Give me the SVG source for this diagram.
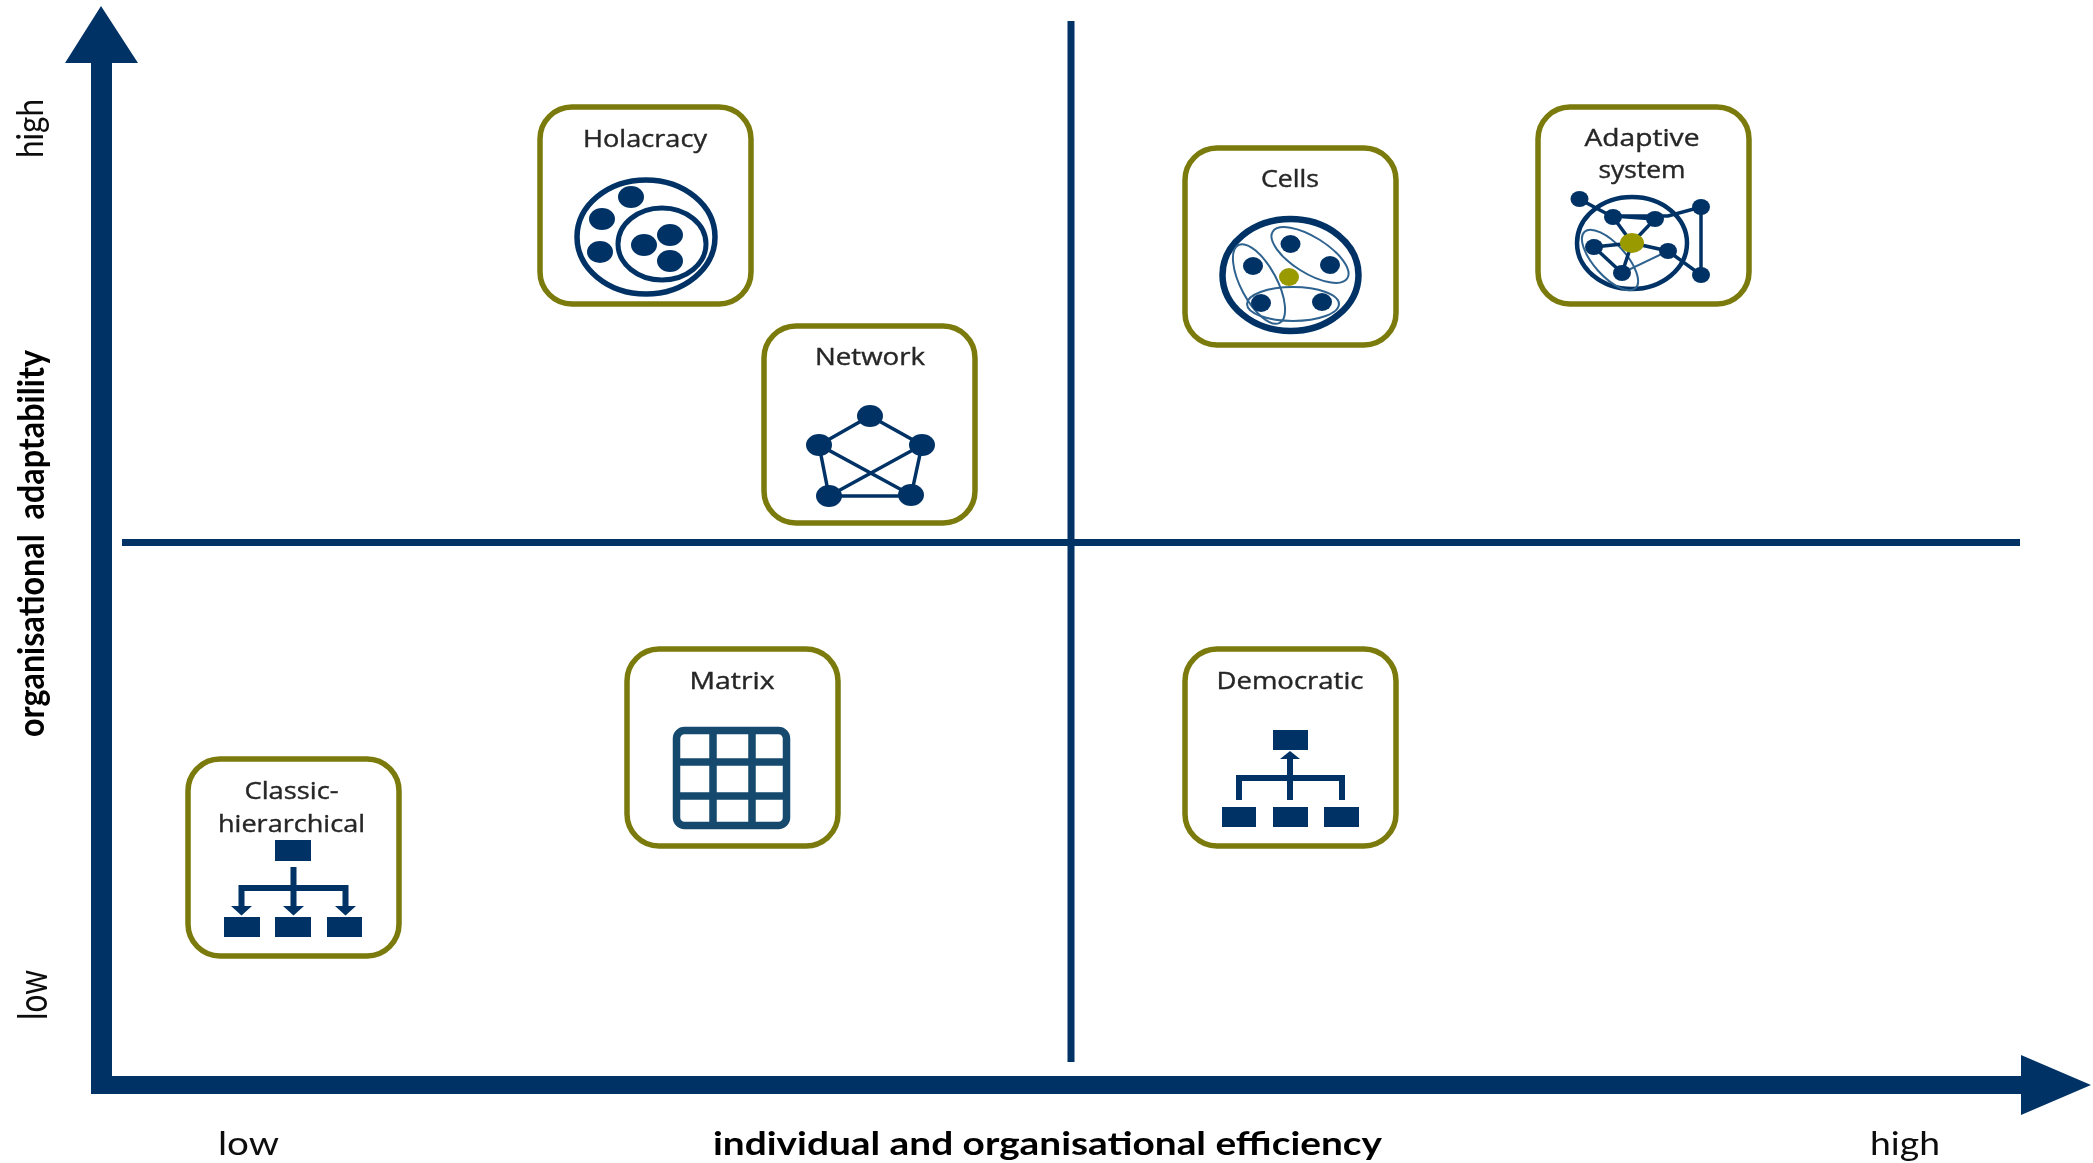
<svg xmlns="http://www.w3.org/2000/svg" width="2093" height="1163" viewBox="0 0 2093 1163">
<defs>
<style>
.box{fill:#fff;stroke:#7a7a0c;stroke-width:5.500}
.lbl{font-family:"Open Sans","Liberation Sans",sans-serif;font-size:24px;fill:#262626;stroke:#262626;stroke-width:0.4;text-anchor:middle}
.ax{font-family:Lato,"Liberation Sans",sans-serif;font-size:33px;fill:#111}
.b{font-weight:700;fill:#000}
.f{fill:#003366;stroke:none}
.o{fill:none;stroke:#003366}
.t{fill:none;stroke:#2f628f;stroke-width:2}
.l{stroke:#003366;stroke-width:3.500;fill:none}
.g{fill:#999900;stroke:none}
</style>
<filter id="soft" x="0" y="0" width="2093" height="1163" filterUnits="userSpaceOnUse"><feGaussianBlur stdDeviation="0.65"/></filter>
</defs>
<rect width="2093" height="1163" fill="#fff"/>
<g filter="url(#soft)">
<g id="connectors">
<path class="f" d="M91 1094V63H65L101 6L138 63H112V1076H2021V1055L2091 1085L2021 1115V1094Z"/>
<path class="o" stroke-width="7" d="M1071 21V1062M122 542.500H2020"/>
</g>
<g id="holacracy">
<rect class="box" x="540" y="107" width="211" height="197" rx="32"/>
<text class="lbl" x="645" y="147" textLength="124" lengthAdjust="spacingAndGlyphs">Holacracy</text>
<ellipse class="o" stroke-width="5.500" cx="646" cy="237" rx="69" ry="57"/>
<ellipse class="o" stroke-width="5" cx="662" cy="244" rx="44" ry="36"/>
<g class="f"><ellipse cx="631" cy="197" rx="13" ry="11"/><ellipse cx="602" cy="219" rx="13" ry="11"/><ellipse cx="600" cy="252" rx="13" ry="11"/><ellipse cx="644" cy="245" rx="13" ry="11"/><ellipse cx="670" cy="235" rx="13" ry="11"/><ellipse cx="670" cy="261" rx="13" ry="11"/></g>
</g>
<g id="network">
<rect class="box" x="764" y="326" width="211" height="197" rx="32"/>
<text class="lbl" x="870" y="365" textLength="110" lengthAdjust="spacingAndGlyphs">Network</text>
<path class="l" d="M870 416L819 445L829 496H911L922 445ZM819 445L911 495M922 445L829 496"/>
<g class="f"><ellipse cx="870" cy="416" rx="13" ry="11"/><ellipse cx="819" cy="445" rx="13" ry="11"/><ellipse cx="922" cy="445" rx="13" ry="11"/><ellipse cx="829" cy="496" rx="13" ry="11"/><ellipse cx="911" cy="495" rx="13" ry="11"/></g>
</g>
<g id="cells">
<rect class="box" x="1185" y="148" width="211" height="197" rx="32"/>
<text class="lbl" x="1290" y="187" textLength="58" lengthAdjust="spacingAndGlyphs">Cells</text>
<ellipse class="o" stroke-width="6.500" cx="1290.500" cy="275" rx="68" ry="56"/>
<ellipse class="t" cx="1310" cy="255" rx="44" ry="18" transform="rotate(32 1310 255)"/>
<ellipse class="t" cx="1259" cy="284" rx="44" ry="18" transform="rotate(62 1259 284)"/>
<ellipse class="t" cx="1293" cy="304" rx="46" ry="17"/>
<g class="f"><ellipse cx="1290.500" cy="244" rx="10" ry="9"/><ellipse cx="1330" cy="265" rx="10" ry="9"/><ellipse cx="1253" cy="266" rx="10" ry="9"/><ellipse cx="1261" cy="303" rx="10" ry="9"/><ellipse cx="1322" cy="302" rx="10" ry="9"/></g>
<ellipse class="g" cx="1289" cy="277" rx="10" ry="9"/>
</g>
<g id="adaptive-system">
<rect class="box" x="1538" y="107" width="211" height="197" rx="32"/>
<text class="lbl" x="1642" y="146" textLength="115" lengthAdjust="spacingAndGlyphs">Adaptive</text>
<text class="lbl" x="1642" y="178" textLength="87" lengthAdjust="spacingAndGlyphs">system</text>
<ellipse class="o" stroke-width="4.500" cx="1632" cy="243" rx="55" ry="46"/>
<ellipse class="t" cx="1610" cy="260" rx="38" ry="16" transform="rotate(48 1610 260)"/>
<path class="l" d="M1579 199L1613 217L1632 243L1655 219L1613 216H1668L1701 207V275L1668 251L1632 243M1594 247L1632 243M1622 273L1632 243M1594 247L1622 273"/>
<path class="t" d="M1622 273L1668 251"/>
<g class="f"><ellipse cx="1579.500" cy="199" rx="9" ry="8"/><ellipse cx="1613" cy="217" rx="9" ry="8"/><ellipse cx="1655" cy="219" rx="9" ry="8"/><ellipse cx="1594" cy="247" rx="9" ry="8"/><ellipse cx="1668" cy="251" rx="9" ry="8"/><ellipse cx="1622" cy="273" rx="9" ry="8"/><ellipse cx="1701" cy="207" rx="9" ry="8"/><ellipse cx="1701" cy="275" rx="9" ry="8"/></g>
<ellipse class="g" cx="1632" cy="243" rx="12" ry="10"/>
</g>
<g id="matrix">
<rect class="box" x="627" y="649" width="211" height="197" rx="32"/>
<text class="lbl" x="732" y="689" textLength="85" lengthAdjust="spacingAndGlyphs">Matrix</text>
<g fill="none" stroke="#174a6e" stroke-width="7.500"><rect x="676.500" y="730.500" width="110" height="95" rx="8"/><path d="M713 730V826M752 730V826M676 762H787M676 796H787"/></g>
</g>
<g id="democratic">
<rect class="box" x="1185" y="649" width="211" height="197" rx="32"/>
<text class="lbl" x="1290" y="689" textLength="147" lengthAdjust="spacingAndGlyphs">Democratic</text>
<g class="f"><rect x="1273" y="730" width="35" height="20"/><rect x="1222" y="807" width="34" height="20"/><rect x="1273" y="807" width="35" height="20"/><rect x="1324" y="807" width="35" height="20"/><path d="M1290 751L1300 759H1280Z"/></g>
<path class="o" stroke-width="6" d="M1290 757V800M1239 800V778H1342V800"/>
</g>
<g id="classic-hierarchical">
<rect class="box" x="188" y="759" width="211" height="197" rx="32"/>
<text class="lbl" x="291.500" y="799" textLength="94" lengthAdjust="spacingAndGlyphs">Classic-</text>
<text class="lbl" x="291.500" y="832" textLength="147" lengthAdjust="spacingAndGlyphs">hierarchical</text>
<g class="f"><rect x="275" y="840" width="36" height="21"/><rect x="224" y="917" width="36" height="20"/><rect x="275" y="917" width="36" height="20"/><rect x="327" y="917" width="35" height="20"/><path d="M231 906H252L241.500 915.500ZM283 906H304L293.500 915.500ZM335 906H356L345.500 915.500Z"/></g>
<path class="o" stroke-width="6" d="M293.500 867V910M241.500 910V888H345.500V910"/>
</g>
<g id="axis-labels">
<text class="ax" x="218" y="1155" textLength="61" lengthAdjust="spacingAndGlyphs">low</text>
<text class="ax b" x="713" y="1155" textLength="669" lengthAdjust="spacingAndGlyphs">individual and organisational efficiency</text>
<text class="ax" x="1870" y="1155" textLength="70" lengthAdjust="spacingAndGlyphs">high</text>
<text class="ax" style="font-size:40px" transform="translate(47 1020) rotate(-90)" textLength="50" lengthAdjust="spacingAndGlyphs">low</text>
<text class="ax" style="font-size:36px" transform="translate(43 158) rotate(-90)" textLength="59" lengthAdjust="spacingAndGlyphs">high</text>
<text class="ax b" style="font-size:37px;word-spacing:8px" transform="translate(44 737) rotate(-90)" textLength="387" lengthAdjust="spacingAndGlyphs">organisational adaptability</text>
</g>
</g>
</svg>
